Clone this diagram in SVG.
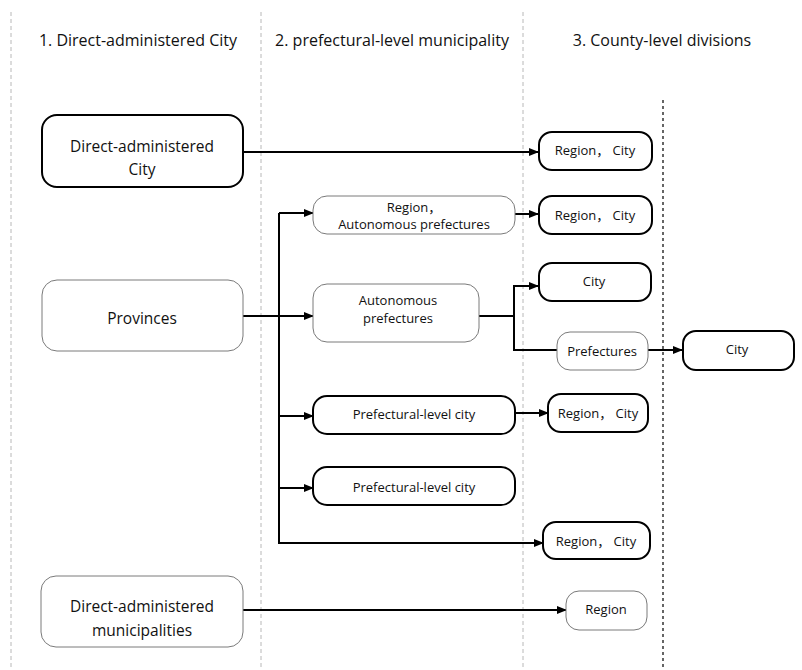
<svg xmlns="http://www.w3.org/2000/svg" width="802" height="670" viewBox="0 0 802 670">
  <defs>
    <marker id="arrow" markerUnits="userSpaceOnUse" markerWidth="10" markerHeight="8" refX="9" refY="4" orient="auto">
      <path d="M0,0 L10,4 L0,8 Z" fill="#000"/>
    </marker>
    <style>
      text { font-family: "Open Sans", "Noto Sans CJK SC", sans-serif; fill: #111; text-anchor: middle; dominant-baseline: central; }
      .hdr { font-size: 16px; }
      .big { font-size: 15.5px; }
      .sm { font-size: 13px; }
      .thick { fill: #fff; stroke: #000; stroke-width: 2; }
      .thin { fill: #fff; stroke: #7a7a7a; stroke-width: 1; }
      .lane { stroke: #b8b8b8; stroke-width: 1; stroke-dasharray: 4 3; fill: none; }
      .lane-dark { stroke: #333; stroke-width: 1.5; stroke-dasharray: 3 3; fill: none; }
      .edge { stroke: #000; stroke-width: 2; fill: none; }
    </style>
  </defs>
  <rect width="802" height="670" fill="#fff"/>

  <!-- column separators -->
  <g id="lanes">
    <line class="lane" x1="11" y1="12" x2="11" y2="670"/>
    <line class="lane" x1="261" y1="12" x2="261" y2="670"/>
    <line class="lane" x1="523" y1="12" x2="523" y2="670"/>
    <line class="lane-dark" x1="663" y1="100" x2="663" y2="670"/>
  </g>

  <!-- column headings -->
  <g id="headers">
    <text class="hdr" x="138" y="40">1. Direct-administered City</text>
    <text class="hdr" x="392" y="40">2. prefectural-level municipality</text>
    <text class="hdr" x="662" y="40">3. County-level divisions</text>
  </g>

  <!-- connectors -->
  <g id="connectors">
    <line class="edge" x1="243" y1="152" x2="538" y2="152" marker-end="url(#arrow)"/>
    <line class="edge" x1="243" y1="316" x2="313" y2="316" marker-end="url(#arrow)"/>
    <polyline class="edge" points="279,543 279,213"/>
    <line class="edge" x1="279" y1="213" x2="313" y2="213" marker-end="url(#arrow)"/>
    <line class="edge" x1="279" y1="416" x2="313" y2="416" marker-end="url(#arrow)"/>
    <line class="edge" x1="279" y1="488" x2="313" y2="488" marker-end="url(#arrow)"/>
    <line class="edge" x1="278" y1="543" x2="543" y2="543" marker-end="url(#arrow)"/>
    <line class="edge" x1="515" y1="214" x2="538" y2="214" marker-end="url(#arrow)"/>
    <polyline class="edge" points="479,316 514,316"/>
    <polyline class="edge" points="514,351 514,286 538,286" marker-end="url(#arrow)"/>
    <polyline class="edge" points="514,350 557,350"/>
    <line class="edge" x1="648" y1="350" x2="682" y2="350" marker-end="url(#arrow)"/>
    <line class="edge" x1="515" y1="413" x2="548" y2="413" marker-end="url(#arrow)"/>
    <line class="edge" x1="243" y1="610" x2="566" y2="610" marker-end="url(#arrow)"/>
  </g>

  <!-- column 1 -->
  <g id="direct-city">
    <rect class="thick" x="42" y="115" width="201" height="72" rx="15"/>
    <text class="big" x="142" y="146">Direct-administered</text>
    <text class="big" x="142" y="169">City</text>
  </g>
  <g id="provinces">
    <rect class="thin" x="42" y="280" width="201" height="71" rx="15"/>
    <text class="big" x="142" y="318">Provinces</text>
  </g>
  <g id="direct-municipalities">
    <rect class="thin" x="41" y="576" width="202" height="71" rx="15"/>
    <text class="big" x="142" y="606">Direct-administered</text>
    <text class="big" x="142" y="630">municipalities</text>
  </g>

  <!-- column 2 -->
  <g id="region-autonomous">
    <rect class="thin" x="313" y="196" width="202" height="38" rx="14"/>
    <text class="sm" x="414" y="207">Region，</text>
    <text class="sm" x="414" y="224">Autonomous prefectures</text>
  </g>
  <g id="autonomous-prefectures">
    <rect class="thin" x="313" y="284" width="166" height="58" rx="14"/>
    <text class="sm" x="398" y="300">Autonomous</text>
    <text class="sm" x="398" y="318">prefectures</text>
  </g>
  <g id="prefectural-city-1">
    <rect class="thick" x="313" y="396" width="202" height="38" rx="14"/>
    <text class="sm" x="414" y="414">Prefectural-level city</text>
  </g>
  <g id="prefectural-city-2">
    <rect class="thick" x="313" y="467" width="202" height="38" rx="14"/>
    <text class="sm" x="414" y="487">Prefectural-level city</text>
  </g>

  <!-- column 3 -->
  <g id="region-city-1">
    <rect class="thick" x="539" y="132" width="113" height="38" rx="13"/>
    <text class="sm" x="595" y="150">Region， City</text>
  </g>
  <g id="region-city-2">
    <rect class="thick" x="539" y="196" width="113" height="38" rx="13"/>
    <text class="sm" x="595" y="215">Region， City</text>
  </g>
  <g id="city-1">
    <rect class="thick" x="539" y="263" width="112" height="38" rx="13"/>
    <text class="sm" x="594" y="281">City</text>
  </g>
  <g id="prefectures">
    <rect class="thin" x="557" y="332" width="91" height="38" rx="13"/>
    <text class="sm" x="602" y="351">Prefectures</text>
  </g>
  <g id="city-2">
    <rect class="thick" x="683" y="331" width="111" height="39" rx="13"/>
    <text class="sm" x="737" y="349">City</text>
  </g>
  <g id="region-city-3">
    <rect class="thick" x="548" y="394" width="100" height="38" rx="13"/>
    <text class="sm" x="598" y="413">Region， City</text>
  </g>
  <g id="region-city-4">
    <rect class="thick" x="543" y="522" width="107" height="37" rx="13"/>
    <text class="sm" x="596" y="541">Region， City</text>
  </g>
  <g id="region">
    <rect class="thin" x="566" y="591" width="81" height="39" rx="13"/>
    <text class="sm" x="606" y="609">Region</text>
  </g>
</svg>
